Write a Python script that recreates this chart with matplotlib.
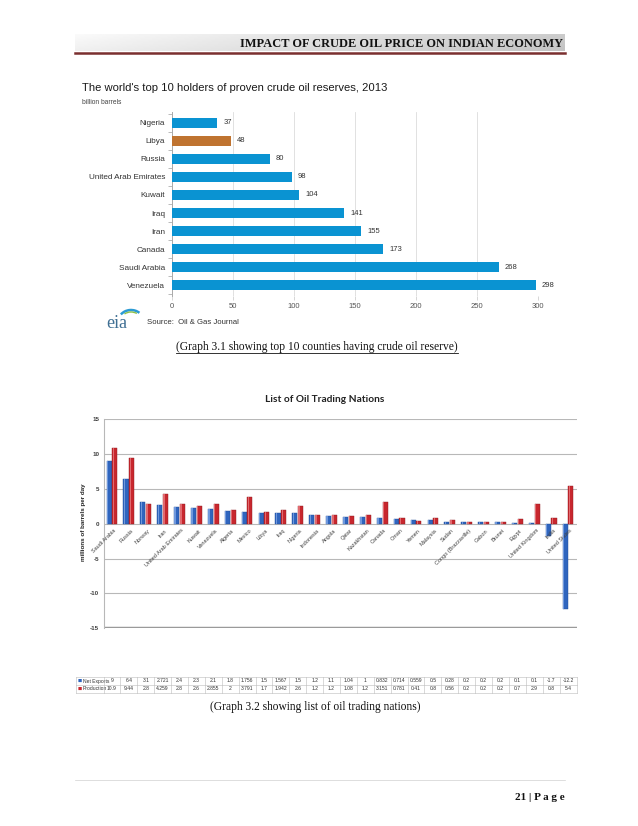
import numpy as np
import matplotlib
matplotlib.use("Agg")
import matplotlib.pyplot as plt
import matplotlib.transforms as mtransforms
from matplotlib.lines import Line2D
from matplotlib.patches import Arc

W, H = 638, 826

# Graph 3.1 - proven reserves (billion barrels), bottom to top
reserve_countries = ["Venezuela", "Saudi Arabia", "Canada", "Iran", "Iraq", "Kuwait",
                     "United Arab Emirates", "Russia", "Libya", "Nigeria"]
reserve_values = [298, 268, 173, 155, 141, 104, 98, 80, 48, 37]
reserve_ticks = [0, 50, 100, 150, 200, 250, 300]

# Graph 3.2 - oil trading nations (millions of barrels per day)
trade_countries = ["Saudi Arabia", "Russia", "Norway", "Iran", "United Arab Emirates",
                   "Kuwait", "Venezuela", "Algeria", "Mexico", "Libya", "Iraq", "Nigeria",
                   "Indonesia", "Angola", "Qatar", "Kazakhstan", "Canada", "Oman", "Yemen",
                   "Malaysia", "Sudan", "Congo (Brazzaville)", "Gabon", "Brunei", "Egypt",
                   "United Kingdom", "India", "United States"]
net_exports = [9, 6.4, 3.1, 2.721, 2.4, 2.3, 2.1, 1.8, 1.756, 1.5, 1.567, 1.5, 1.2, 1.1,
               1.04, 1, 0.832, 0.714, 0.559, 0.5, 0.28, 0.2, 0.2, 0.2, 0.1, 0.1, -1.7, -12.2]
production = [10.9, 9.44, 2.8, 4.259, 2.8, 2.6, 2.855, 2, 3.791, 1.7, 1.942, 2.6, 1.2, 1.2,
              1.08, 1.2, 3.151, 0.781, 0.41, 0.8, 0.56, 0.2, 0.2, 0.2, 0.7, 2.9, 0.8, 5.4]
trade_ticks = [-15, -10, -5, 0, 5, 10, 15]

EIA_BLUE = "#0A93D2"
LIBYA = "#BF7330"
NET_BLUE = "#2F65BE"
PROD_RED = "#C8272E"


def fx(x):
    return x / W


def fy(y):
    return 1 - y / H


def add_ax(left, top, right, bottom):
    return fig.add_axes([fx(left), fy(bottom), (right - left) / W, (bottom - top) / H])


fig = plt.figure(figsize=(W / 100, H / 100), dpi=100)
fig.patch.set_facecolor("white")

# ---- page header ----
band = add_ax(75, 34, 565, 51)
grad = np.linspace(0.98, 0.80, 256)[None, :] * np.linspace(1.0, 0.96, 8)[:, None]
band.imshow(grad, cmap="gray", vmin=0, vmax=1, aspect="auto")
band.axis("off")
fig.text(fx(563), fy(44), "IMPACT OF CRUDE OIL PRICE ON INDIAN ECONOMY",
         family="Liberation Serif", fontweight="bold", fontsize=8.9,
         ha="right", va="center", color="#111111")
fig.add_artist(Line2D([fx(75), fx(565)], [fy(53), fy(53)], color="#7a2f2f", lw=1.8))

# ---- graph 3.1 ----
fig.text(fx(82), fy(88), "The world's top 10 holders of proven crude oil reserves, 2013",
         family="Liberation Sans", fontsize=8.1, va="center", color="#1a1a1a")
fig.text(fx(82), fy(103), "billion barrels", family="Liberation Sans", fontsize=4.8,
         va="center", color="#444444")

ax1 = add_ax(172, 112, 538, 296)
ypos = np.arange(len(reserve_countries))
colors = [LIBYA if c == "Libya" else EIA_BLUE for c in reserve_countries]
ax1.barh(ypos, reserve_values, height=0.54, color=colors, zorder=3)
for y, v in zip(ypos, reserve_values):
    ax1.text(v + 5, y, str(v), va="center", fontsize=5.5, family="Liberation Sans",
             color="#333333")
ax1.set_xlim(0, 300)
ax1.set_ylim(-0.6, 9.6)
ax1.set_xticks(reserve_ticks)
ax1.set_xticklabels([str(t) for t in reserve_ticks], fontsize=5.5,
                    family="Liberation Sans", color="#555555")
ax1.set_yticks(ypos)
ax1.set_yticklabels(reserve_countries, fontsize=5.85, family="Liberation Sans",
                    color="#333333")
ax1.set_yticks(np.arange(-0.5, 10, 1), minor=True)
ax1.tick_params(axis="y", which="major", length=0, pad=5)
ax1.tick_params(axis="y", which="minor", length=3, color="#b0b0b0", width=0.6)
ax1.tick_params(axis="x", length=3, color="#d0d0d0", width=0.6, pad=2)
ax1.grid(axis="x", color="#dcdcdc", lw=0.6)
ax1.set_axisbelow(True)
for s in ["top", "right", "bottom"]:
    ax1.spines[s].set_visible(False)
ax1.spines["left"].set_color("#aaaaaa")
ax1.spines["left"].set_linewidth(0.7)

# eia logo + source
fig.text(fx(106), fy(328), "eia", family="Liberation Serif", fontsize=13,
         color="#3f6f93", va="baseline")
fig.add_artist(Arc((fx(131), fy(322)), 26 / W, 24 / H, theta1=40, theta2=150,
                   transform=fig.transFigure, color="#2c9bd4", lw=1.8))
fig.add_artist(Arc((fx(131), fy(321)), 21 / W, 18 / H, theta1=45, theta2=140,
                   transform=fig.transFigure, color="#8cc04b", lw=1.0))
fig.text(fx(147), fy(322), "Source:  Oil & Gas Journal", family="Liberation Sans",
         fontsize=5.6, va="center", color="#333333")

cap1 = fig.text(fx(317), fy(347), "(Graph 3.1 showing top 10 counties having crude oil reserve)",
                family="Liberation Serif", fontsize=8.3, ha="center", va="center",
                color="#111111")

# ---- graph 3.2 ----
fig.text(fx(325), fy(400), "List of Oil Trading Nations", family="Lato",
         fontweight="bold", fontsize=7.3, ha="center", va="center", color="#222222")

ax2 = add_ax(103.5, 419.3, 576.5, 628.3)
x = np.arange(len(trade_countries))
ax2.bar(x - 0.17, net_exports, width=0.3, color=NET_BLUE, edgecolor="#1d4a94",
        lw=0.3, zorder=3)
ax2.bar(x - 0.26, net_exports, width=0.08, color="#6f98dc", lw=0, zorder=4)
ax2.bar(x + 0.17, production, width=0.3, color=PROD_RED, edgecolor="#8e1a1f",
        lw=0.3, zorder=3)
ax2.bar(x + 0.08, production, width=0.08, color="#e06a6f", lw=0, zorder=4)
ax2.set_xlim(-0.5, len(trade_countries) - 0.5)
ax2.set_ylim(-15, 15)
ax2.set_xticks([])
ax2.set_yticks(trade_ticks)
ax2.set_yticklabels([str(t) for t in trade_ticks], fontsize=4.5, fontweight="bold",
                    family="Liberation Sans", color="#404040")
ax2.tick_params(axis="y", length=0, pad=3)
ax2.grid(axis="y", color="#b8b8b8", lw=0.8)
ax2.set_axisbelow(True)
for s in ["top", "right", "bottom"]:
    ax2.spines[s].set_visible(False)
ax2.spines["left"].set_color("#b8b8b8")
ax2.spines["left"].set_linewidth(0.8)
ax2.axhline(-15, color="#9a9a9a", lw=2.5, zorder=2)
for i, name in enumerate(trade_countries):
    ax2.text(i + 0.1, -0.6, name, rotation=45, ha="right", va="top",
             rotation_mode="anchor", fontsize=4.0, family="Liberation Sans",
             color="#404040")
fig.text(fx(84), fy(522), "millions of barrels per day", rotation=90, ha="center",
         va="center", fontsize=4.5, fontweight="bold", family="Liberation Sans",
         color="#222222")

# data table under the chart, columns aligned with categories
trans = mtransforms.blended_transform_factory(ax2.transData, fig.transFigure)
t_left = -2.13
t_right = len(trade_countries) - 0.5
row_top, row_mid, row_bot = fy(677), fy(685), fy(693)
for yy in [row_top, row_mid, row_bot]:
    fig.add_artist(Line2D([t_left, t_right], [yy, yy], transform=trans,
                          color="#bbbbbb", lw=0.4))
for xx in [t_left] + list(np.arange(-0.5, len(trade_countries), 1.0)):
    fig.add_artist(Line2D([xx, xx], [row_top, row_bot], transform=trans,
                          color="#bbbbbb", lw=0.4))
rows = [("Net Exports", NET_BLUE, net_exports, (row_top + row_mid) / 2),
        ("Production", PROD_RED, production, (row_mid + row_bot) / 2)]
for label, col, vals, yc in rows:
    ax2.text(t_left + 0.12, yc, "\u25a0", transform=trans, fontsize=3.2, color=col,
             va="center", clip_on=False)
    ax2.text(t_left + 0.4, yc, label, transform=trans, fontsize=3.6, color="#333333",
             va="center", family="Liberation Sans", clip_on=False)
    for i, v in enumerate(vals):
        ax2.text(i, yc, f"{v:g}", transform=trans, fontsize=3.6, color="#333333",
                 ha="center", va="center", family="Liberation Sans", clip_on=False)

fig.text(fx(315), fy(707), "(Graph 3.2 showing list of oil trading nations)",
         family="Liberation Serif", fontsize=8.3, ha="center", va="center",
         color="#111111")

# ---- footer ----
fig.add_artist(Line2D([fx(75), fx(565)], [fy(780), fy(780)], color="#d0d0d0", lw=0.5))
fig.text(fx(565), fy(797), "21 | P a g e", family="Liberation Serif", fontweight="bold",
         fontsize=8, ha="right", va="center", color="#111111")

# underline caption 1 using its rendered extent
fig.canvas.draw()
bb = cap1.get_window_extent(fig.canvas.get_renderer())
inv = fig.transFigure.inverted()
(x0, y0), (x1, _) = inv.transform([(bb.x0, bb.y0), (bb.x1, bb.y0)])
fig.add_artist(Line2D([x0, x1], [y0 + 0.5 / H, y0 + 0.5 / H], color="#111111", lw=0.6))

fig.savefig("out.png", dpi=100)
